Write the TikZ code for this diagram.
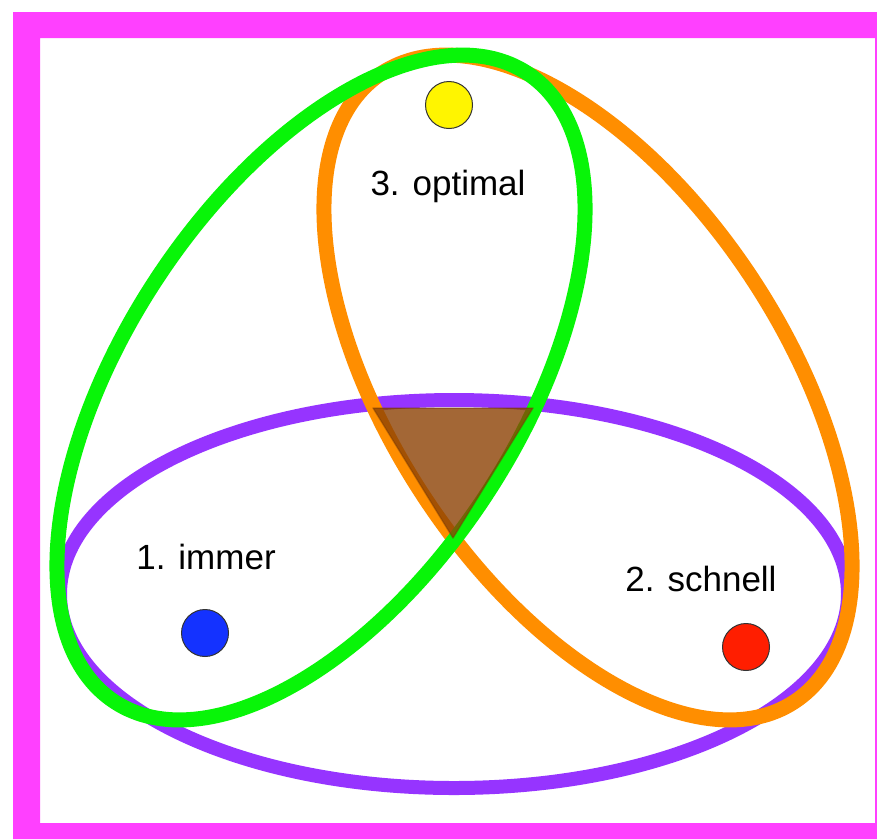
\documentclass[tikz,border=0pt]{standalone}
\usepackage{fontspec}
\setmainfont{Liberation Sans}
\definecolor{frameM}{RGB}{255,64,255}
\definecolor{purpleE}{RGB}{150,52,255}
\definecolor{greenE}{RGB}{8,245,8}
\definecolor{orangeE}{RGB}{255,142,0}
\definecolor{brownT}{RGB}{140,66,4}
\definecolor{dotY}{RGB}{255,245,0}
\definecolor{dotB}{RGB}{20,50,255}
\definecolor{dotR}{RGB}{255,30,0}
\tikzset{
  ring/.style={line width=15pt},
  dot/.style={circle, draw=black!80, line width=1pt, minimum size=47pt, inner sep=0pt},
  lbl/.style={font=\fontsize{35}{40}\selectfont, text=black, inner sep=0pt}
}
\begin{document}
\begin{tikzpicture}[x=1pt,y=-1pt]
\useasboundingbox (0,0) rectangle (877,839);
\fill[white] (0,0) rectangle (877,839);
% frame
\fill[frameM, even odd rule] (13,12) rectangle (877,839) (40,38) rectangle (875,823);
% purple ellipse
\draw[purpleE, line width=14pt] (454,594) ellipse [x radius=394, y radius=194];
% orange ellipse
\draw[orangeE, ring, rotate around={-56.7:(588,387.5)}] (588,387.5) ellipse [x radius=376, y radius=197];
% green ellipse
\draw[greenE, ring, rotate around={56.7:(321,387.5)}] (321,387.5) ellipse [x radius=376, y radius=197];
% intersection triangle
\fill[brownT, fill opacity=0.8] (373,408) -- (533,408) -- (453,538) -- cycle;
\draw[brownT!80!black, opacity=0.4, line width=1.5pt, line join=round] (373,408) -- (533,408) -- (453,538) -- cycle;
% dots
\node[dot, fill=dotY] (y) at (449,105) {};
\node[dot, fill=dotB] (b) at (205,633) {};
\node[dot, fill=dotR] (r) at (746,647) {};
% labels
\node[lbl] (t3) at (448,186) {3. optimal};
\node[lbl] (t1) at (206,557) {1. immer};
\node[lbl] (t2) at (701,579) {2. schnell};
\end{tikzpicture}
\end{document}
